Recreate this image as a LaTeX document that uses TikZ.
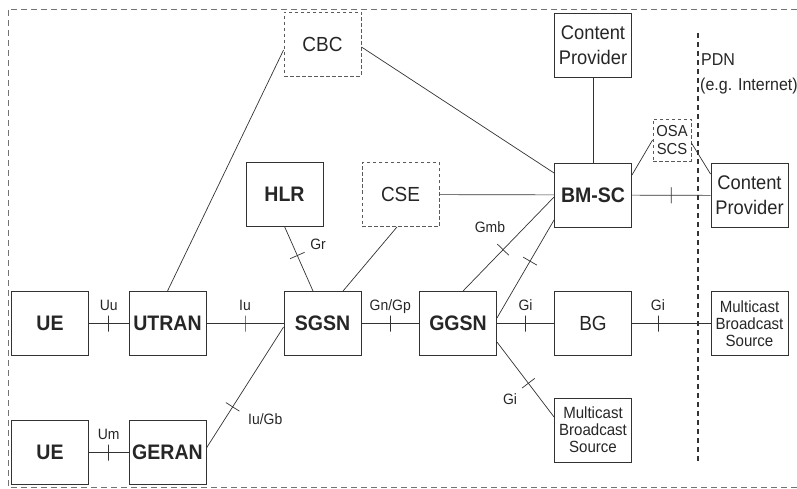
\documentclass[tikz,border=0pt]{standalone}
\usepackage{fontspec}
\setmainfont{Liberation Sans}[FakeStretch=0.93]
\definecolor{netLine}{RGB}{50,50,50}
\definecolor{netDash}{RGB}{90,90,90}
\definecolor{netFrame}{RGB}{115,115,115}

\begin{document}
\begin{tikzpicture}[
    x=1pt, y=-1pt,
    every node/.style={font=\fontsize{20.4}{23}\selectfont, text=black!85},
    box/.style={draw=netLine, line width=0.9pt, minimum width=77pt, minimum height=64pt, inner sep=0pt, align=center},
    core/.style={box, font=\fontsize{21}{24}\selectfont\bfseries},
    opt/.style={box, draw=netDash, dash pattern=on 3.5pt off 2.5pt},
    cp/.style={box, font=\fontsize{19.7}{25}\selectfont},
    src/.style={box, font=\fontsize{16.2}{17}\selectfont},
    edge/.style={draw=netLine, line width=0.7pt},
    tickmark/.style={draw=netLine, line width=0.7pt, sloped, minimum width=0pt, minimum height=16pt, inner sep=0pt, label distance=4pt},
    iface/.style={font=\fontsize{15}{17}\selectfont, inner sep=1pt, text height=11pt, text depth=3pt},
    pdnlbl/.style={font=\fontsize{17.2}{20}\selectfont, inner sep=0pt, anchor=west},
    frame/.style={draw=netFrame, line width=0.7pt, dash pattern=on 6pt off 4pt},
    pdnline/.style={draw=black!80, line width=1.8pt, dash pattern=on 5pt off 4pt}
]
\useasboundingbox (0,0) rectangle (797,489);
\draw[frame] (797,9) -| (8,487) -- (797,487);

\node[core] (ue) at (50,323.5) {UE};
\node[core] (utran) at (167.5,323.5) {UTRAN};
\node[core] (sgsn) at (322.5,323.5) {SGSN};
\node[core] (ggsn) at (458,323.5) {GGSN};
\node[box] (bg) at (593,323.5) {BG};
\node[src] (mbsout) at (749.5,323.5) {Multicast\\Broadcast\\Source};
\node[core] (uege) at (50,452.5) {UE};
\node[core] (geran) at (167.5,452.5) {GERAN};
\node[src] (mbsin) at (593,430) {Multicast\\Broadcast\\Source};
\node[core] (hlr) at (284.5,194) {HLR};
\node[opt] (cse) at (400.5,194.5) {CSE};
\node[core] (bmsc) at (593,195) {BM-SC};
\node[cp] (cpout) at (749.5,195.5) {Content\\Provider};
\node[cp] (cpin) at (593,45) {Content\\Provider};
\node[opt] (cbc) at (322.5,44) {CBC};
\node[opt, minimum width=38pt, minimum height=42pt, font=\fontsize{15.9}{18}\selectfont] (osa) at (672,140) {OSA\\SCS};

% reference points
\foreach \a/\b/\t/\p in {ue/utran/Uu/0.5, utran/sgsn/Iu/0.5, sgsn/ggsn/{Gn/Gp}/0.5, ggsn/bg/Gi/0.5, bg/mbsout/Gi/0.33, uege/geran/Um/0.5}
  \draw[edge] (\a) -- node[tickmark, pos=\p, label={[iface]above:\t}] {} (\b);

\draw[edge] (utran.north) -- ([yshift=-6pt]cbc.west);
\draw[edge] ([yshift=-3pt]cbc.east) -- ([yshift=22pt]bmsc.west);
\draw[edge] (cpin) -- (bmsc);
\draw[edge] (cse) -- (bmsc);
\draw[edge] (hlr.south) -- node[tickmark, pos=0.45] {} ([xshift=-9.5pt]sgsn.north);
\draw[edge] ([xshift=-3.5pt]cse.south) -- ([xshift=20.5pt]sgsn.north);
\draw[edge] ([yshift=-3.5pt]sgsn.west) -- node[tickmark, pos=0.66] {} ([yshift=4.5pt]geran.east);
\draw[edge] ([xshift=5pt]ggsn.north) -- node[tickmark, pos=0.44] {} ([yshift=-2pt]bmsc.west);
\draw[edge] ([yshift=5.5pt]ggsn.east) -- node[tickmark, pos=0.58] {} ([yshift=-25pt]bmsc.west);
\draw[edge] ([yshift=-18.5pt]ggsn.east) -- node[tickmark, pos=0.55] {} ([yshift=13pt]mbsin.west);
\draw[edge] (bmsc) -- node[tickmark] {} (cpout);
\draw[edge] ([yshift=20pt]bmsc.east) -- (osa.west);
\draw[edge] ([yshift=-3pt]osa.east) -- ([yshift=21.5pt]cpout.west);

\node[iface] (gr) at (318,245) {Gr};
\node[iface, anchor=west] (iugb) at (247,420) {Iu/Gb};
\node[iface] (gmb) at (490,228) {Gmb};
\node[iface] (gilow) at (510,400) {Gi};

% PDN border
\draw[pdnline] (698,33) -- (698,462);
\node[pdnlbl] (pdn) at (701,60) {PDN};
\node[pdnlbl] (inet) at (700,86) {(e.g. Internet)};
\end{tikzpicture}
\end{document}
